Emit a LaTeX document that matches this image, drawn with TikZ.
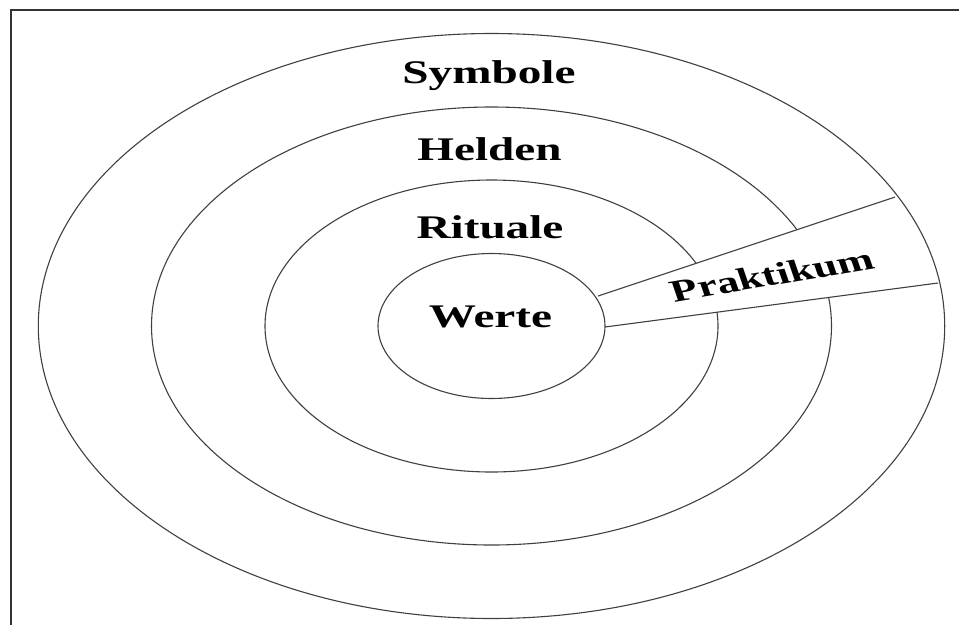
\documentclass[tikz,border=0pt]{standalone}
\usepackage{fontspec}
\setmainfont{Liberation Serif}
\begin{document}
\begin{tikzpicture}[x=1pt,y=-1pt,
  ring/.style={draw=black!75, line width=1.1pt},
  frameline/.style={draw=black!80, line width=1.8pt},
  lbl/.style={font=\fontsize{33}{36}\selectfont\bfseries, inner sep=0pt, anchor=base},
]
\useasboundingbox (0,0) rectangle (959,625);
\fill[white] (0,0) rectangle (959,625);
% frame
\coordinate (fbl) at (11,625);
\coordinate (ftl) at (11,10);
\coordinate (ftr) at (959,10);
\draw[frameline] (fbl) -- (ftl) -- (ftr);
% rings
\coordinate (c) at (491.5,326);
\draw[ring] (c) ellipse [x radius=340pt, y radius=219pt];
\draw[ring] (c) ellipse [x radius=226.5pt, y radius=146pt];
% wedge
\coordinate (u1) at (598,296);
\coordinate (u2) at (895,197);
\coordinate (l1) at (605,327);
\coordinate (l2) at (938,283);
\fill[white] (u1) -- (u2) -- (l2) -- (l1) -- cycle;
\draw[ring] (c) ellipse [x radius=453.2pt, y radius=292.5pt];
\draw[ring] (c) ellipse [x radius=113.5pt, y radius=72.5pt];
\draw[ring] (u1) -- (u2);
\draw[ring] (l1) -- (l2);
% labels
\node[lbl] (sym) at (489,83) {\scalebox{1.43}[1]{Symbole}};
\node[lbl] (hel) at (489.5,160.5) {\scalebox{1.43}[1]{Helden}};
\node[lbl] (rit) at (490,238.5) {\scalebox{1.43}[1]{Rituale}};
\node[lbl] (wer) at (490.5,327) {\scalebox{1.43}[1]{Werte}};
\node[font=\fontsize{31}{34}\selectfont\bfseries, inner sep=0pt] (prak) at (772,275)
  {\scalebox{1.43}[1]{\rotatebox{13.5}{Praktikum}}};
\end{tikzpicture}
\end{document}
